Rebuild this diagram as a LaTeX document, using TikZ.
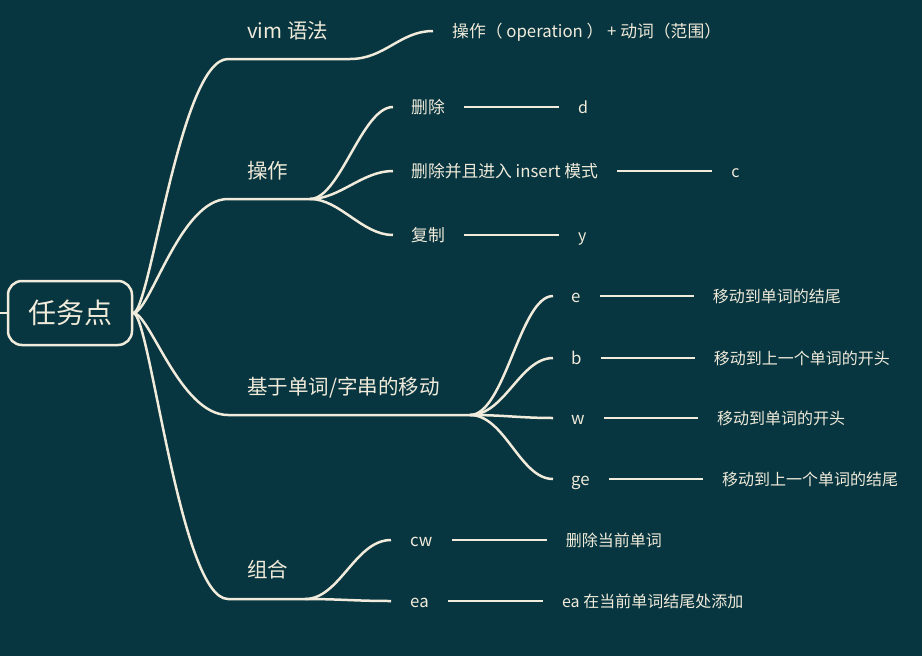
\documentclass[tikz,border=0pt]{standalone}
\usepackage{fontspec}
\setmainfont{Noto Sans CJK SC}
\usetikzlibrary{positioning}
\definecolor{mapbg}{RGB}{7,53,64}
\definecolor{mapline}{RGB}{240,235,218}
\tikzset{
    normal/.style={draw=mapline, line width=2.5pt},
    topic/.style={style=normal, rounded corners=14pt, minimum width=124pt, minimum height=64pt, inner sep=0, text=mapline, font=\fontsize{28}{32}\selectfont},
    branch/.style={anchor=west, inner sep=0, text=mapline, text height=18pt, text depth=2.5pt, font=\fontsize{20.5}{24}\selectfont},
    leaf/.style={style=branch, text height=14.7pt, text depth=2pt, font=\fontsize{16.8}{20}\selectfont},
    note/.style={style=branch, text height=14pt, text depth=1.9pt, font=\fontsize{16}{19}\selectfont},
    link/.style={style=normal}, % curved links of the map
    bridge/.style={style=normal, shorten <=19pt, shorten >=19pt} % straight link to a note
}

\begin{document}
\begin{tikzpicture}[x=1pt, y=-1pt]
    \useasboundingbox[fill=mapbg] (0,0) rectangle (922,656);

    % root
    \coordinate (stub) at (0,313);
    \node[topic] (root) at (70,313) {任务点};

    % first level
    \node[branch] (syntax) at (247,31) {vim 语法};
    \coordinate (syntaxL) at (228,59);
    \coordinate (syntaxR) at (350,59);
    \node[branch] (ops) at (247,171) {操作};
    \coordinate (opsL) at (228,199);
    \coordinate (opsR) at (310,199);
    \node[branch] (motion) at (247,387) {基于单词/字串的移动};
    \coordinate (motionL) at (228,415);
    \coordinate (motionR) at (470,415);
    \node[branch] (combo) at (247,570) {组合};
    \coordinate (comboL) at (228,599);
    \coordinate (comboR) at (305,599);

    % second level
    \coordinate (ruleE) at (433,31);
    \node[leaf, right=19pt of ruleE] (rule) {操作（ operation ） + 动词（范围）};
    \coordinate (delE) at (393,107);
    \node[leaf, right=18pt of delE] (del) {删除};
    \coordinate (chgE) at (393,171);
    \node[leaf, right=18pt of chgE] (chg) {删除并且进入 insert 模式};
    \coordinate (yankE) at (393,235);
    \node[leaf, right=18pt of yankE] (yank) {复制};
    \coordinate (eE) at (553,296);
    \node[leaf, right=18pt of eE] (e) {e};
    \coordinate (bE) at (553,358);
    \node[leaf, right=18pt of bE] (b) {b};
    \coordinate (wE) at (553,418);
    \node[leaf, right=18pt of wE] (w) {w};
    \coordinate (geE) at (553,479);
    \node[leaf, right=18pt of geE] (ge) {ge};
    \coordinate (cwE) at (391,540);
    \node[leaf, right=19pt of cwE] (cw) {cw};
    \coordinate (eaE) at (391,601);
    \node[leaf, right=19pt of eaE] (ea) {ea};

    % notes
    \node[note, right=133pt of del] (d) {d};
    \node[note, right=133pt of chg] (c) {c};
    \node[note, right=133pt of yank] (y) {y};
    \node[note, right=132pt of e] (eNote) {移动到单词的结尾};
    \node[note, right=132pt of b] (bNote) {移动到上一个单词的开头};
    \node[note, right=132pt of w] (wNote) {移动到单词的开头};
    \node[note, right=132pt of ge] (geNote) {移动到上一个单词的结尾};
    \node[note, right=133pt of cw] (cwNote) {删除当前单词};
    \node[note, right=133pt of ea] (eaNote) {ea 在当前单词结尾处添加};

    \draw[link] (stub) to (root);
    \draw[link] (root.east) .. controls (150,313) and (180,59) .. (syntaxL) -- (syntaxR)
        .. controls (385,59) and (400,31) .. (ruleE);
    \draw[link] (root.east) .. controls (150,313) and (180,199) .. (opsL) -- (opsR);
    \draw[link] (root.east) .. controls (150,313) and (180,415) .. (motionL) -- (motionR);
    \draw[link] (root.east) .. controls (150,313) and (180,599) .. (comboL) -- (comboR);

    \draw[link] (opsR) .. controls (340,199) and (362,107) .. (delE);
    \draw[link] (opsR) .. controls (340,199) and (362,171) .. (chgE);
    \draw[link] (opsR) .. controls (340,199) and (362,235) .. (yankE);
    \draw[link] (motionR) .. controls (505,415) and (520,296) .. (eE);
    \draw[link] (motionR) .. controls (505,415) and (520,358) .. (bE);
    \draw[link] (motionR) .. controls (505,415) and (520,418) .. (wE);
    \draw[link] (motionR) .. controls (505,415) and (520,479) .. (geE);
    \draw[link] (comboR) .. controls (340,599) and (355,540) .. (cwE);
    \draw[link] (comboR) .. controls (340,599) and (355,601) .. (eaE);

    \draw[bridge] (del) to (d);
    \draw[bridge] (chg) to (c);
    \draw[bridge] (yank) to (y);
    \draw[bridge] (e) to (eNote);
    \draw[bridge] (b) to (bNote);
    \draw[bridge] (w) to (wNote);
    \draw[bridge] (ge) to (geNote);
    \draw[bridge] (cw) to (cwNote);
    \draw[bridge] (ea) to (eaNote);
\end{tikzpicture}
\end{document}
